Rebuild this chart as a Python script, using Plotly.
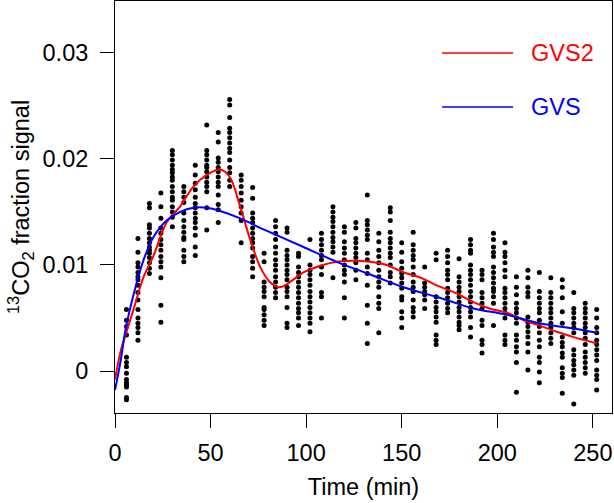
import plotly.graph_objects as go

# 采样时间 (min)
times = [6, 12, 18, 24, 30, 36, 42, 48, 54, 60, 66, 72, 78, 84, 90, 96, 102, 108, 114,
         120, 126, 132, 138, 144, 150, 156, 162, 168, 174, 180, 186, 192, 198, 204,
         210, 216, 222, 228, 234, 240, 246, 252]

# 每个时间点的观测值 (13CO2 fraction signal)
signal_by_time = [
    [0.0058, 0.0048, 0.0042, 0.0034, 0.0013, 0.0008, 0.0004, -0.0002, -0.0008, -0.0011,
     -0.0013, -0.0015, -0.0025, -0.0027, -0.0042],
    [0.0125, 0.0112, 0.0102, 0.0098, 0.0093, 0.0089, 0.0086, 0.0081, 0.0074, 0.0067,
     0.0058, 0.0050, 0.0045, 0.0041, 0.0036, 0.0029],
    [0.0158, 0.0154, 0.0138, 0.0135, 0.0130, 0.0125, 0.0121, 0.0117, 0.0114, 0.0111,
     0.0107, 0.0102, 0.0097, 0.0092],
    [0.0168, 0.0155, 0.0144, 0.0135, 0.0130, 0.0124, 0.0119, 0.0114, 0.0108, 0.0103,
     0.0098, 0.0088, 0.0062, 0.0046],
    [0.0208, 0.0204, 0.0199, 0.0194, 0.0190, 0.0187, 0.0183, 0.0180, 0.0174, 0.0169,
     0.0164, 0.0161, 0.0155, 0.0150, 0.0145, 0.0136],
    [0.0174, 0.0169, 0.0164, 0.0159, 0.0149, 0.0142, 0.0136, 0.0131, 0.0126, 0.0124,
     0.0114, 0.0108, 0.0103],
    [0.0194, 0.0185, 0.0177, 0.0171, 0.0164, 0.0158, 0.0154, 0.0149, 0.0144, 0.0140,
     0.0135, 0.0128, 0.0117, 0.0109],
    [0.0232, 0.0208, 0.0204, 0.0199, 0.0194, 0.0192, 0.0188, 0.0183, 0.0178, 0.0174,
     0.0169, 0.0154, 0.0133],
    [0.0225, 0.0216, 0.0201, 0.0197, 0.0192, 0.0188, 0.0183, 0.0178, 0.0174, 0.0166,
     0.0157, 0.0152, 0.0140],
    [0.0256, 0.0251, 0.0239, 0.0229, 0.0225, 0.0220, 0.0215, 0.0210, 0.0206, 0.0199,
     0.0192, 0.0187, 0.0180, 0.0174],
    [0.0185, 0.0180, 0.0174, 0.0168, 0.0161, 0.0155, 0.0149, 0.0142, 0.0121],
    [0.0173, 0.0163, 0.0149, 0.0144, 0.0140, 0.0135, 0.0130, 0.0125, 0.0121, 0.0116,
     0.0108, 0.0103, 0.0097, 0.0089],
    [0.0111, 0.0103, 0.0084, 0.0079, 0.0075, 0.0070, 0.0060, 0.0058, 0.0053, 0.0048, 0.0043],
    [0.0142, 0.0136, 0.0130, 0.0124, 0.0117, 0.0111, 0.0105, 0.0100, 0.0095, 0.0089,
     0.0084, 0.0079, 0.0074, 0.0069],
    [0.0135, 0.0131, 0.0114, 0.0109, 0.0105, 0.0100, 0.0095, 0.0091, 0.0086, 0.0079,
     0.0075, 0.0070, 0.0060, 0.0045, 0.0041],
    [0.0111, 0.0108, 0.0098, 0.0093, 0.0089, 0.0084, 0.0079, 0.0074, 0.0069, 0.0064,
     0.0059, 0.0055, 0.0050, 0.0043],
    [0.0124, 0.0100, 0.0095, 0.0091, 0.0086, 0.0081, 0.0075, 0.0070, 0.0065, 0.0060,
     0.0055, 0.0050, 0.0045, 0.0037],
    [0.0130, 0.0124, 0.0119, 0.0114, 0.0109, 0.0105, 0.0098, 0.0091, 0.0074, 0.0070, 0.0050],
    [0.0155, 0.0150, 0.0145, 0.0141, 0.0136, 0.0131, 0.0126, 0.0122, 0.0117, 0.0112, 0.0088],
    [0.0136, 0.0131, 0.0122, 0.0116, 0.0111, 0.0105, 0.0100, 0.0095, 0.0091, 0.0084,
     0.0069, 0.0050],
    [0.0140, 0.0135, 0.0125, 0.0121, 0.0116, 0.0111, 0.0107, 0.0102, 0.0095, 0.0086],
    [0.0166, 0.0142, 0.0138, 0.0133, 0.0128, 0.0124, 0.0111, 0.0105, 0.0098, 0.0092,
     0.0081, 0.0062, 0.0045, 0.0026],
    [0.0130, 0.0122, 0.0114, 0.0108, 0.0102, 0.0095, 0.0089, 0.0084, 0.0079, 0.0070,
     0.0064, 0.0059, 0.0036],
    [0.0154, 0.0150, 0.0142, 0.0131, 0.0125, 0.0121, 0.0116, 0.0111, 0.0107, 0.0100,
     0.0093, 0.0089, 0.0083],
    [0.0121, 0.0112, 0.0103, 0.0097, 0.0092, 0.0088, 0.0083, 0.0078, 0.0070, 0.0067,
     0.0056, 0.0050, 0.0041],
    [0.0131, 0.0119, 0.0114, 0.0109, 0.0105, 0.0098, 0.0091, 0.0084, 0.0079, 0.0075,
     0.0067, 0.0060, 0.0056, 0.0051],
    [0.0098, 0.0083, 0.0079, 0.0075, 0.0072, 0.0067, 0.0059],
    [0.0111, 0.0105, 0.0070, 0.0065, 0.0060, 0.0056, 0.0051, 0.0046, 0.0034, 0.0029, 0.0025],
    [0.0114, 0.0108, 0.0102, 0.0095, 0.0091, 0.0086, 0.0078, 0.0074, 0.0069, 0.0064,
     0.0059, 0.0055],
    [0.0106, 0.0089, 0.0084, 0.0079, 0.0075, 0.0070, 0.0065, 0.0060, 0.0056, 0.0051,
     0.0046, 0.0043, 0.0039],
    [0.0124, 0.0119, 0.0114, 0.0111, 0.0100, 0.0095, 0.0091, 0.0086, 0.0081, 0.0075,
     0.0070, 0.0065, 0.0060, 0.0056, 0.0051, 0.0041, 0.0032],
    [0.0095, 0.0091, 0.0086, 0.0074, 0.0069, 0.0064, 0.0059, 0.0048, 0.0043, 0.0029,
     0.0025, 0.0017],
    [0.0130, 0.0124, 0.0117, 0.0112, 0.0108, 0.0098, 0.0093, 0.0088, 0.0083, 0.0078,
     0.0075, 0.0070, 0.0064, 0.0043],
    [0.0121, 0.0112, 0.0108, 0.0102, 0.0095, 0.0089, 0.0078, 0.0074, 0.0069, 0.0064,
     0.0059, 0.0055, 0.0050, 0.0034, 0.0029, 0.0025],
    [0.0089, 0.0079, 0.0072, 0.0064, 0.0059, 0.0055, 0.0050, 0.0045, 0.0034, 0.0029,
     0.0023, 0.0018, 0.0008, -0.0020],
    [0.0095, 0.0088, 0.0079, 0.0074, 0.0070, 0.0051, 0.0046, 0.0042, 0.0037, 0.0032,
     0.0026, 0.0018, 0.0001],
    [0.0093, 0.0075, 0.0069, 0.0064, 0.0059, 0.0055, 0.0048, 0.0042, 0.0036, 0.0029,
     0.0023, 0.0013, 0.0008, -0.0001, -0.0011],
    [0.0088, 0.0074, 0.0069, 0.0064, 0.0059, 0.0055, 0.0050, 0.0045, 0.0041, 0.0036,
     0.0031, 0.0026],
    [0.0086, 0.0079, 0.0069, 0.0056, 0.0045, 0.0032, 0.0027, 0.0023, 0.0017, 0.0013,
     0.0003, -0.0002, -0.0006, -0.0021],
    [0.0074, 0.0059, 0.0055, 0.0050, 0.0045, 0.0041, 0.0036, 0.0020, 0.0015, 0.0010,
     0.0006, 0.0001, -0.0004, -0.0031],
    [0.0064, 0.0059, 0.0055, 0.0050, 0.0045, 0.0041, 0.0036, 0.0031, 0.0025, 0.0018,
     0.0013, 0.0008, 0.0003, -0.0002],
    [0.0058, 0.0050, 0.0041, 0.0036, 0.0029, 0.0025, 0.0020, 0.0015, 0.0010, 0.0001,
     -0.0004, -0.0008, -0.0018],
]

# 拟合曲线 GVS2 (红) / GVS (蓝)
gvs2_t = [0, 3, 5.5, 10, 15, 20, 27, 34, 41, 48, 55, 60, 65.5, 70.7, 76, 81, 86, 90,
          98.6, 107, 116, 125, 133.5, 142, 151, 160, 168, 175, 179, 187.5, 196, 205,
          213.6, 222, 231, 240, 252]
gvs2_y = [-0.0008, 0.0019, 0.0034, 0.0060, 0.0089, 0.0108, 0.0140, 0.0155, 0.0174,
          0.0185, 0.0190, 0.0183, 0.0155, 0.0124, 0.0098, 0.0084, 0.0079, 0.0082,
          0.0093, 0.0099, 0.0103, 0.0104, 0.0103, 0.0100, 0.0093, 0.0088, 0.0081,
          0.0076, 0.0073, 0.0065, 0.0059, 0.0055, 0.0048, 0.0043, 0.0037, 0.0032, 0.0026]
gvs_t = [0, 3, 5.5, 10, 15, 20, 27, 34, 41, 48, 55, 65.5, 76, 86, 98.6, 116, 133.5,
         151, 168, 175, 187.5, 205, 222, 240, 252]
gvs_y = [-0.0018, 0.0010, 0.0039, 0.0074, 0.0105, 0.0126, 0.0142, 0.0150, 0.0154,
         0.0154, 0.0151, 0.0144, 0.0135, 0.0127, 0.0117, 0.0103, 0.0091, 0.0079,
         0.0070, 0.0066, 0.0059, 0.0053, 0.0045, 0.0040, 0.0036]

x_ticks = [0, 50, 100, 150, 200, 250]
y_ticks = [0, 0.01, 0.02, 0.03]
y_ticktext = ["0", "0.01", "0.02", "0.03"]

FONT = "Liberation Sans, Arial, Helvetica, sans-serif"

pts_x, pts_y = [], []
for t, vals in zip(times, signal_by_time):
    for v in vals:
        pts_x.append(t)
        pts_y.append(v)

fig = go.Figure()
fig.add_trace(go.Scatter(
    x=pts_x, y=pts_y, mode="markers",
    marker=dict(color="black", size=5, line=dict(width=0)),
    showlegend=False, cliponaxis=True,
))
fig.add_trace(go.Scatter(
    x=gvs2_t, y=gvs2_y, mode="lines", line=dict(color="#ff0000", width=2, shape="spline", smoothing=1),
    showlegend=False,
))
fig.add_trace(go.Scatter(
    x=gvs_t, y=gvs_y, mode="lines", line=dict(color="#0000ff", width=2, shape="spline", smoothing=1),
    showlegend=False,
))

# 图例 (手绘, R 风格)
legend_items = [("GVS2", "#ff0000", 0.874), ("GVS", "#0000ff", 0.743)]
for label, color, ly in legend_items:
    fig.add_shape(type="line", xref="paper", yref="paper", x0=0.658, x1=0.801, y0=ly, y1=ly,
                  line=dict(color=color, width=1.5))
    fig.add_annotation(x=0.834, y=ly, xref="paper", yref="paper", text=label, showarrow=False,
                       xanchor="left", yanchor="middle", font=dict(color=color, size=23.5, family=FONT))

axis_common = dict(
    showline=True, linecolor="black", linewidth=1, mirror=True,
    ticks="outside", ticklen=14, tickcolor="black", tickwidth=1,
    showgrid=False, zeroline=False,
    tickfont=dict(size=23.5, family=FONT, color="black"),
)
fig.update_layout(
    width=614, height=503,
    margin=dict(l=115, r=2, t=1, b=90),
    paper_bgcolor="white", plot_bgcolor="white",
    font=dict(family=FONT, color="black"),
    xaxis=dict(range=[0, 260], tickvals=x_ticks, ticklabelstandoff=5,
               title=dict(text="Time (min)", font=dict(size=23.5, family=FONT), standoff=13),
               **axis_common),
    yaxis=dict(range=[-0.00396, 0.0349], tickvals=y_ticks, ticktext=y_ticktext, ticklabelstandoff=7,
               title=dict(text="<sup>13</sup>CO<sub>2</sub> fraction signal",
                          font=dict(size=23.5, family=FONT), standoff=6),
               **axis_common),
)

# 去掉页面默认 8px 边距, 图对齐窗口左上角
fig.write_html("out.html", config={"displayModeBar": False},
               post_script="document.body.style.margin='0';")
